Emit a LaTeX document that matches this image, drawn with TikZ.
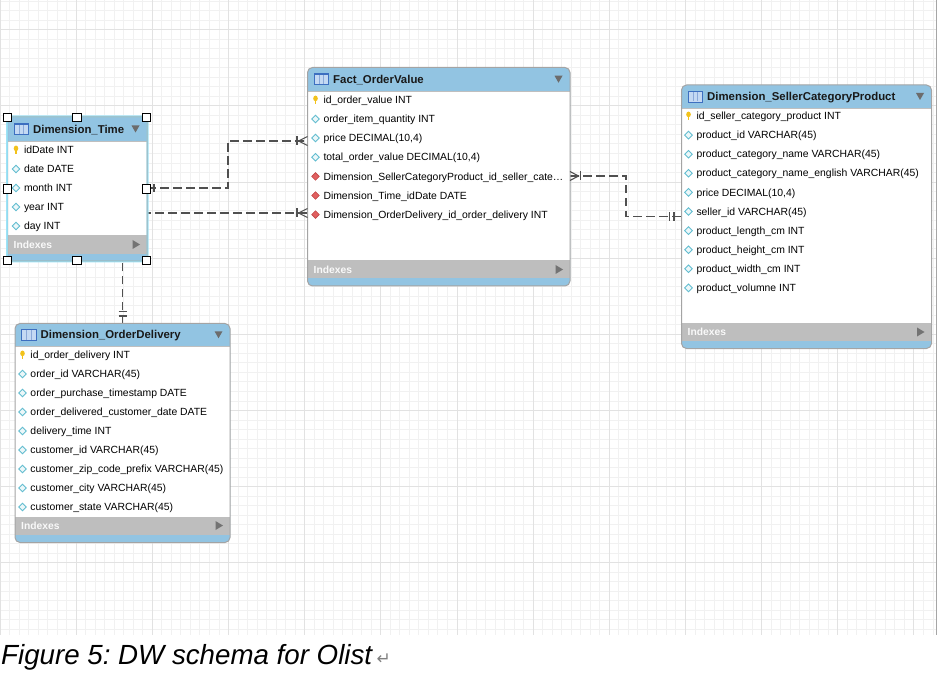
\documentclass[tikz,border=0pt]{standalone}
\usepackage{fontspec}
\setmainfont{Liberation Sans}
\newfontfamily\symfont{DejaVu Sans}
\usetikzlibrary{fit}
\frenchspacing
\definecolor{hdrc}{HTML}{92C4E2}
\definecolor{idxc}{HTML}{BEBEBE}
\definecolor{bordc}{HTML}{A4A4A4}
\definecolor{gridmin}{HTML}{F1F1F1}
\definecolor{gridmaj}{HTML}{E2E2E2}
\definecolor{keyc}{HTML}{F2C21B}
\definecolor{diac}{HTML}{62BDD0}
\definecolor{fkc}{HTML}{E06060}
\definecolor{fkd}{HTML}{C24848}
\definecolor{relc}{HTML}{505050}
\definecolor{glowc}{HTML}{9FE2F6}
\definecolor{tblb}{HTML}{3D6FC0}
\definecolor{tblf}{HTML}{C4D9F3}
\tikzset{
  rel/.style={draw=relc, line width=1.1pt, dash pattern=on 8.5pt off 4.5pt},
  relmark/.style={draw=relc, line width=1.1pt},
  rowtxt/.style={anchor=base west, inner sep=0pt, font=\fontsize{10.4}{12}\selectfont, text=black},
  ttltxt/.style={anchor=base west, inner sep=0pt, font=\bfseries\fontsize{11.4}{13}\selectfont, text=black!90},
  idxtxt/.style={anchor=base west, inner sep=0pt, font=\bfseries\fontsize{10.3}{12}\selectfont, text=white!95!gray},
  handle/.style={draw=black, fill=white, line width=0.9pt, minimum size=8.2pt, inner sep=0pt}
}
\newcounter{rc}
\newcommand\iconpk[2]{%
  \fill[keyc] (#1,{#2-1.6}) ellipse [x radius=2.3pt, y radius=2.8pt];
  \fill[keyc] ({#1-0.9},{#2}) rectangle ({#1+0.9},{#2+4.3});}
\newcommand\iconcl[2]{%
  \draw[diac, fill=diac!12, line width=0.9pt] ({#1-3.8},#2) -- (#1,{#2-3.8}) -- ({#1+3.8},#2) -- (#1,{#2+3.8}) -- cycle;}
\newcommand\iconfk[2]{%
  \draw[fkd, fill=fkc, line width=0.6pt] ({#1-3.8},#2) -- (#1,{#2-3.8}) -- ({#1+3.8},#2) -- (#1,{#2+3.8}) -- cycle;}
\newcommand\erow[4]{%
  \stepcounter{rc}\edef\rn{r\arabic{rc}}%
  \csname icon#1\endcsname{#2}{#3}%
  \node[rowtxt] (\rn) at ({#2+7.8},{#3+3.7}) {#4};}
% #1 name #2 L #3 T #4 R #5 HB #6 IT #7 IB #8 B #9 title
\newcommand\ertable[9]{%
  \fill[hdrc, rounded corners=5pt] (#2,#3) rectangle (#4,#8);
  \fill[white] (#2,#5) rectangle (#4,#6);
  \fill[idxc] (#2,#6) rectangle (#4,#7);
  \draw[bordc!70, line width=0.6pt] (#2,#5) -- (#4,#5);
  \draw[bordc, line width=1pt, rounded corners=5pt] (#2,#3) rectangle (#4,#8);
  \coordinate (#1-nw) at (#2,#3); \coordinate (#1-se) at (#4,#8);
  \node[fit=(#1-nw)(#1-se), inner sep=0pt] (#1) {};
  \draw[tblb, fill=tblf, line width=0.8pt] ({#2+6.5},{(#3+#5)/2-5.5}) rectangle ({#2+21},{(#3+#5)/2+5.5});
  \draw[tblb!60, line width=0.5pt] ({#2+11.3},{(#3+#5)/2-4.5}) -- ({#2+11.3},{(#3+#5)/2+5});
  \draw[tblb!60, line width=0.5pt] ({#2+16.1},{(#3+#5)/2-4.5}) -- ({#2+16.1},{(#3+#5)/2+5});
  \draw[tblb, line width=1.2pt] ({#2+6.5},{(#3+#5)/2-5}) -- ({#2+21},{(#3+#5)/2-5});
  \node[ttltxt] (#1-title) at ({#2+25.5},{(#3+#5)/2+4.1}) {#9};
  \fill[gray!85!black] ({#4-15.5},{(#3+#5)/2-3.5}) -- ({#4-7.5},{(#3+#5)/2-3.5}) -- ({#4-11.5},{(#3+#5)/2+3.5}) -- cycle;
  \node[idxtxt] (#1-idx) at ({#2+6},{(#6+#7)/2+3.7}) {Indexes};
  \fill[gray!90!black] ({#4-14.5},{(#6+#7)/2-4.5}) -- ({#4-14.5},{(#6+#7)/2+4.5}) -- ({#4-7},{(#6+#7)/2}) -- cycle;
}
\begin{document}
\begin{tikzpicture}[x=1pt,y=-1pt]
\useasboundingbox (0,0) rectangle (937,676);
% background grid
\foreach \i in {0,...,98} {\pgfmathsetmacro\xx{\i*9.52}\draw[gridmin, line width=0.9pt] (\xx,0) -- (\xx,635);}
\foreach \j in {0,...,66} {\pgfmathsetmacro\yy{1.14+\j*9.52}\draw[gridmin, line width=0.9pt] (0,\yy) -- (936,\yy);}
\foreach \i in {0,...,12} {\pgfmathsetmacro\xx{\i*76.16}\draw[gridmaj, line width=0.9pt] (\xx,0) -- (\xx,635);}
\foreach \j in {0,...,7} {\pgfmathsetmacro\yy{29.7+\j*76.16}\draw[gridmaj, line width=0.9pt] (0,\yy) -- (936,\yy);}
\draw[gray!70, line width=1pt] (936,0) -- (936,635);

% connector end points on the table borders
\coordinate (timeE) at (147,188);
\coordinate (factW1) at (307.5,141);
\coordinate (factW2) at (307.5,213);
\coordinate (factE) at (570,176);
\coordinate (sellW) at (681.5,216.7);
\coordinate (delN) at (122.5,323.5);

% connectors
\draw[rel] (timeE) -- (228,188) |- (factW1);
\draw[rel] (delN) |- (factW2);
\draw[rel] (factE) -- (626,176) |- (sellW);

% tables
\ertable{fact}{307.5}{67.5}{570}{91}{260.5}{278.5}{286}{Fact\_OrderValue}
\erow{pk}{315.5}{100}{id\_order\_value INT}
\erow{cl}{315.5}{119}{order\_item\_quantity INT}
\erow{cl}{315.5}{138}{price DECIMAL(10,4)}
\erow{cl}{315.5}{157.2}{total\_order\_value DECIMAL(10,4)}
\erow{fk}{315.5}{176.4}{Dimension\_SellerCategoryProduct\_id\_seller\_cate…}
\erow{fk}{315.5}{195.5}{Dimension\_Time\_idDate DATE}
\erow{fk}{315.5}{214.6}{Dimension\_OrderDelivery\_id\_order\_delivery INT}

\ertable{seller}{681.5}{85}{931.5}{108}{323}{341}{348.5}{Dimension\_SellerCategoryProduct}
\erow{pk}{688.5}{116}{id\_seller\_category\_product INT}
\erow{cl}{688.5}{135.1}{product\_id VARCHAR(45)}
\erow{cl}{688.5}{154.2}{product\_category\_name VARCHAR(45)}
\erow{cl}{688.5}{173.3}{product\_category\_name\_english VARCHAR(45)}
\erow{cl}{688.5}{192.4}{price DECIMAL(10,4)}
\erow{cl}{688.5}{211.5}{seller\_id VARCHAR(45)}
\erow{cl}{688.5}{230.6}{product\_length\_cm INT}
\erow{cl}{688.5}{249.7}{product\_height\_cm INT}
\erow{cl}{688.5}{268.8}{product\_width\_cm INT}
\erow{cl}{688.5}{287.9}{product\_volumne INT}

\ertable{delivery}{15}{323.5}{230}{346}{516.5}{534.5}{542.5}{Dimension\_OrderDelivery}
\erow{pk}{22.5}{355}{id\_order\_delivery INT}
\erow{cl}{22.5}{374}{order\_id VARCHAR(45)}
\erow{cl}{22.5}{393}{order\_purchase\_timestamp DATE}
\erow{cl}{22.5}{412}{order\_delivered\_customer\_date DATE}
\erow{cl}{22.5}{431}{delivery\_time INT}
\erow{cl}{22.5}{450}{customer\_id VARCHAR(45)}
\erow{cl}{22.5}{469}{customer\_zip\_code\_prefix VARCHAR(45)}
\erow{cl}{22.5}{488}{customer\_city VARCHAR(45)}
\erow{cl}{22.5}{507}{customer\_state VARCHAR(45)}

% selected time table glow
\draw[glowc, line width=3pt, rounded corners=5pt] (7.5,117) rectangle (147,261);
\ertable{time}{7.5}{117}{147}{141}{235}{254}{261}{Dimension\_Time}
\draw[glowc!80!diac, line width=0.8pt, rounded corners=5pt] (7.5,117) rectangle (147,261);
\erow{pk}{16}{150}{idDate INT}
\erow{cl}{16}{169}{date DATE}
\erow{cl}{16}{188}{month INT}
\erow{cl}{16}{207}{year INT}
\erow{cl}{16}{226}{day INT}

% relationship end marks
\draw[relmark] (154,184) -- (154,192);
\draw[relmark] (297,136.5) -- (297,145.5);
\draw[relmark] (307.5,136.5) -- (298.5,141) -- (307.5,145.5);
\draw[relmark] (297,208.5) -- (297,217.5);
\draw[relmark] (307.5,208.5) -- (298.5,213) -- (307.5,217.5);
\draw[relmark] (570,171.5) -- (578.5,176) -- (570,180.5);
\draw[relmark] (580.5,171.5) -- (580.5,180.5);
\draw[relmark] (669.5,212.2) -- (669.5,221.2);
\draw[relmark] (674,212.2) -- (674,221.2);
\draw[relmark] (118.5,311.5) -- (126.5,311.5);
\draw[relmark] (118.5,316) -- (126.5,316);

% selection handles
\foreach \hx/\hy [count=\k] in {7.5/117.5, 77/117.5, 146.7/117.5, 7.5/189, 146.7/189, 7.5/260.8, 77/260.8, 146.7/260.8}
  {\node[handle] (h\k) at (\hx,\hy) {};}

% caption
\node[anchor=base west, inner sep=0pt, font=\itshape\fontsize{27.7}{32}\selectfont] (cap) at (1,664) {Figure 5: DW schema for Olist};
\node[anchor=base west, inner sep=0pt, font=\symfont\fontsize{17}{20}\selectfont, text=gray] (ret) at ([xshift=4pt]cap.base east) {↵};
\end{tikzpicture}
\end{document}
